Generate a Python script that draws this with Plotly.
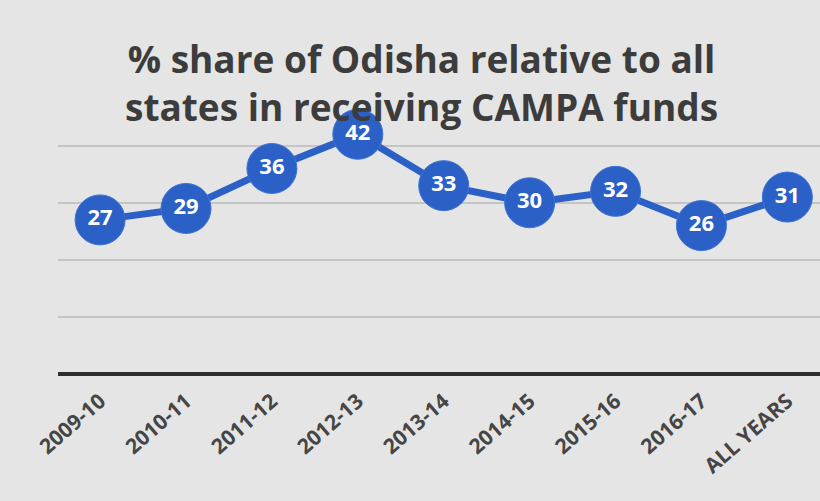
import plotly.graph_objects as go

categories = ["2009-10", "2010-11", "2011-12", "2012-13", "2013-14",
              "2014-15", "2015-16", "2016-17", "ALL YEARS"]
share_pct = [27, 29, 36, 42, 33, 30, 32, 26, 31]
y_ticks = [0, 10, 20, 30, 40]
title_text = "% share of Odisha relative to all<br>states in receiving CAMPA funds"

BLUE = "#2b60c6"
BG = "#e5e5e5"
FONT = "Open Sans"

W, H = 820, 501
L, R, T, B = 58, 0, 100, 127

fig = go.Figure()
fig.add_trace(go.Scatter(
    x=list(range(len(categories))),
    y=share_pct,
    mode="lines+markers+text",
    line=dict(color=BLUE, width=7),
    marker=dict(size=50, color=BLUE, line=dict(color="#3d72d6", width=1)),
    text=[str(v) for v in share_pct],
    textposition="middle center",
    textfont=dict(family=FONT, size=22, color="white", weight="bold"),
    cliponaxis=False,
    hoverinfo="skip",
))

fig.update_layout(
    width=W, height=H,
    margin=dict(l=L, r=R, t=T, b=B),
    paper_bgcolor=BG,
    plot_bgcolor=BG,
    showlegend=False,
    font=dict(family=FONT, color="#404040"),
    xaxis=dict(
        range=[-0.49, 8.38],
        tickmode="array",
        tickvals=list(range(len(categories))),
        ticktext=categories,
        tickangle=-41,
        tickfont=dict(family=FONT, size=21, color="#454545", weight="bold"),
        ticklabelstandoff=10,
        showgrid=False,
        zeroline=False,
        showline=False,
        ticks="",
    ),
    yaxis=dict(
        range=[0, 48],
        tickvals=y_ticks,
        showticklabels=False,
        showgrid=True,
        gridcolor="#c4c4c4",
        gridwidth=2,
        zeroline=True,
        zerolinecolor="#2e2e2e",
        zerolinewidth=4,
        showline=False,
        ticks="",
    ),
    annotations=[dict(
        text=title_text,
        x=(421 - L) / (W - L - R), xref="paper",
        y=(H - B - 82) / (H - T - B), yref="paper",
        xanchor="center", yanchor="middle",
        showarrow=False,
        font=dict(family=FONT, size=37, color="#3c3c3c", weight="bold"),
    )],
)

fig.write_html("out.html", config={"displayModeBar": False},
               post_script="document.body.style.margin='0';")
